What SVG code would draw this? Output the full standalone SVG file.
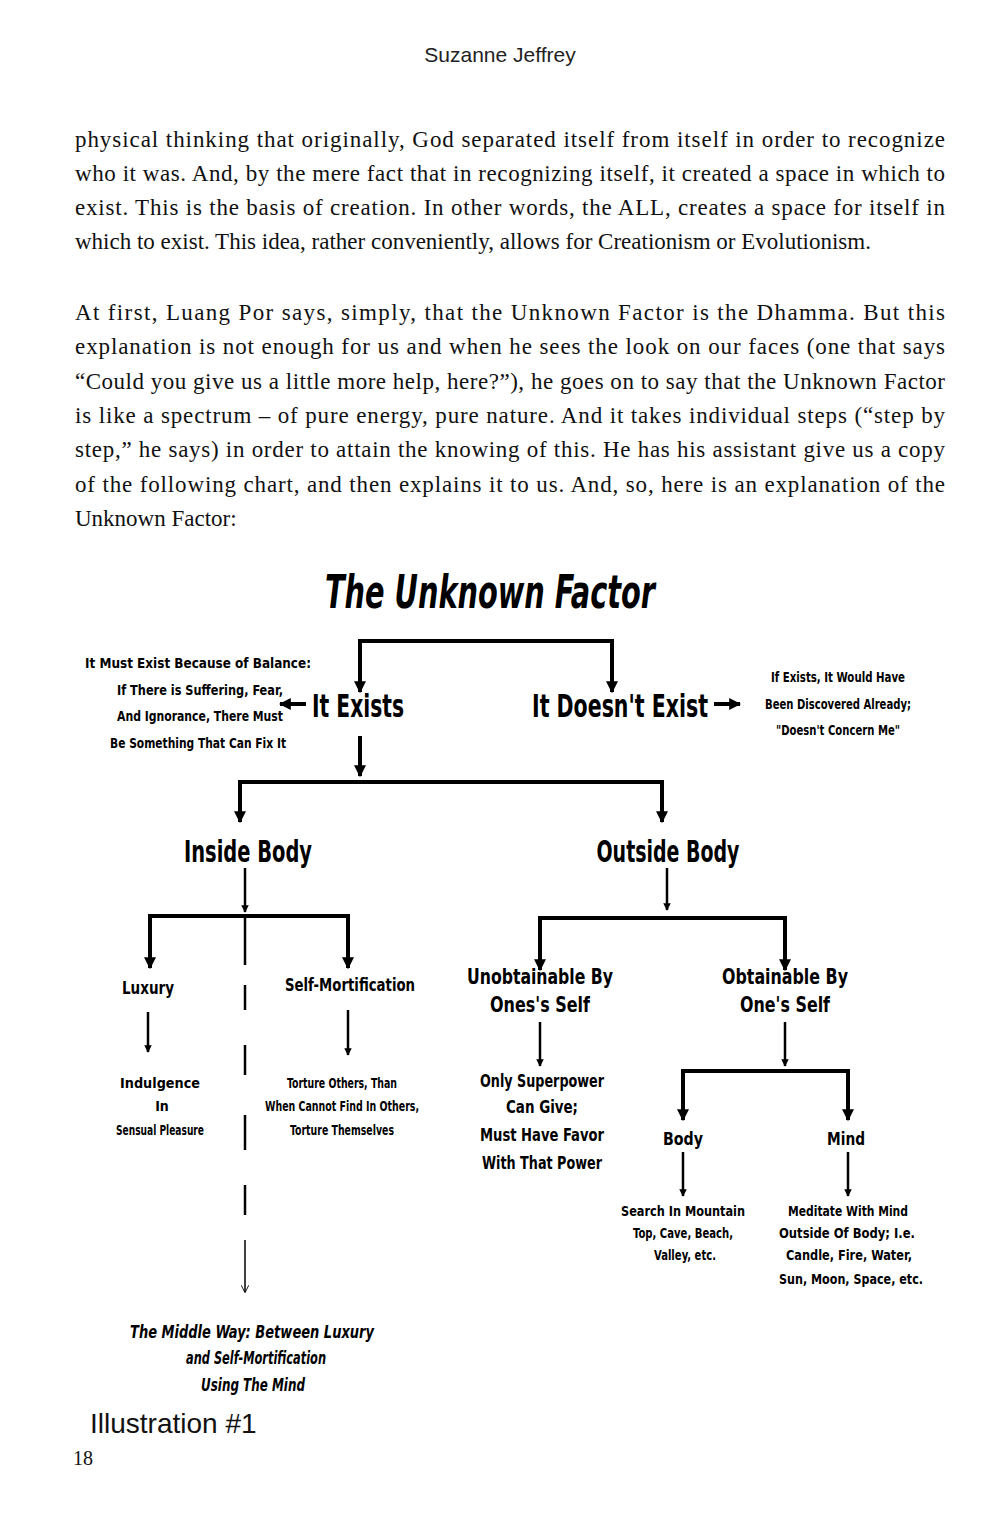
<svg xmlns="http://www.w3.org/2000/svg" width="1000" height="1520" viewBox="0 0 1000 1520">
<style>
.b{font-family:"Liberation Serif",serif;font-size:23px;fill:#111}
.c{font-family:"DejaVu Sans Condensed","Liberation Sans",sans-serif;font-weight:bold;fill:#000;text-anchor:middle}
.s{font-size:14px}
.m{font-size:17px}
.l{font-size:30px}
.ln{stroke:#000;stroke-width:4;fill:none}
.tn{stroke:#000;stroke-width:2.5;fill:none}
</style>
<defs>
<marker id="a" viewBox="0 0 10 10" refX="9" refY="5" markerWidth="3" markerHeight="3.5" orient="auto"><path d="M0,0L10,5L0,10z" fill="#000"/></marker>
<marker id="o" viewBox="0 0 10 10" refX="9" refY="5" markerWidth="6" markerHeight="5" orient="auto"><path d="M0,0L10,5L0,10" fill="none" stroke="#000" stroke-width="1.2"/></marker>
</defs>
<rect width="1000" height="1520" fill="#fff"/>
<text x="500" y="62" text-anchor="middle" style="font-family:'Liberation Sans',sans-serif;font-size:21px;fill:#222;font-weight:300">Suzanne Jeffrey</text>
<g class="b">
<text x="75" y="147" textLength="870" lengthAdjust="spacing">physical thinking that originally, God separated itself from itself in order to recognize</text>
<text x="75" y="181" textLength="870" lengthAdjust="spacing">who it was. And, by the mere fact that in recognizing itself, it created a space in which to</text>
<text x="75" y="215" textLength="870" lengthAdjust="spacing">exist. This is the basis of creation. In other words, the ALL, creates a space for itself in</text>
<text x="75" y="249">which to exist. This idea, rather conveniently, allows for Creationism or Evolutionism.</text>
<text x="75" y="320" textLength="870" lengthAdjust="spacing">At first, Luang Por says, simply, that the Unknown Factor is the Dhamma. But this</text>
<text x="75" y="354" textLength="870" lengthAdjust="spacing">explanation is not enough for us and when he sees the look on our faces (one that says</text>
<text x="75" y="389" textLength="870" lengthAdjust="spacing">“Could you give us a little more help, here?”), he goes on to say that the Unknown Factor</text>
<text x="75" y="423" textLength="870" lengthAdjust="spacing">is like a spectrum – of pure energy, pure nature. And it takes individual steps (“step by</text>
<text x="75" y="457" textLength="870" lengthAdjust="spacing">step,” he says) in order to attain the knowing of this. He has his assistant give us a copy</text>
<text x="75" y="492" textLength="870" lengthAdjust="spacing">of the following chart, and then explains it to us. And, so, here is an explanation of the</text>
<text x="75" y="526">Unknown Factor:</text>
</g>
<text x="490" y="608" class="c" style="font-size:46px;font-style:italic" textLength="330" lengthAdjust="spacingAndGlyphs">The Unknown Factor</text>

<g id="connectors">
<polyline class="ln" points="360,692 360,641 612,641 612,692" marker-end="url(#a)"/>
<line class="ln" x1="360" y1="641" x2="360" y2="692" marker-end="url(#a)"/>
<line class="ln" x1="306" y1="704" x2="280" y2="704" marker-end="url(#a)"/>
<line class="ln" x1="714" y1="704" x2="740" y2="704" marker-end="url(#a)"/>
<line class="ln" x1="360" y1="736" x2="360" y2="776" marker-end="url(#a)"/>
<polyline class="ln" points="240,822 240,782 662,782 662,822" marker-end="url(#a)"/>
<line class="ln" x1="240" y1="782" x2="240" y2="822" marker-end="url(#a)"/>
<line class="tn" x1="245" y1="868" x2="245" y2="912" marker-end="url(#a)"/>
<polyline class="ln" points="150,968 150,916 348,916 348,968" marker-end="url(#a)"/>
<line class="ln" x1="150" y1="916" x2="150" y2="968" marker-end="url(#a)"/>
<g class="tn">
<line x1="245" y1="916" x2="245" y2="965"/>
<line x1="245" y1="985" x2="245" y2="1010"/>
<line x1="245" y1="1045" x2="245" y2="1075"/>
<line x1="245" y1="1115" x2="245" y2="1150"/>
<line x1="245" y1="1185" x2="245" y2="1215"/>
<line x1="245" y1="1240" x2="245" y2="1292" stroke-width="1.5" marker-end="url(#o)"/>
</g>
<line class="tn" x1="148" y1="1012" x2="148" y2="1052" marker-end="url(#a)"/>
<line class="tn" x1="348" y1="1010" x2="348" y2="1055" marker-end="url(#a)"/>
<line class="tn" x1="667" y1="868" x2="667" y2="910" marker-end="url(#a)"/>
<polyline class="ln" points="540,970 540,918 785,918 785,970" marker-end="url(#a)"/>
<line class="ln" x1="540" y1="918" x2="540" y2="970" marker-end="url(#a)"/>
<line class="tn" x1="540" y1="1022" x2="540" y2="1066" marker-end="url(#a)"/>
<line class="tn" x1="785" y1="1022" x2="785" y2="1066" marker-end="url(#a)"/>
<polyline class="ln" points="683,1120 683,1071 848,1071 848,1120" marker-end="url(#a)"/>
<line class="ln" x1="683" y1="1071" x2="683" y2="1120" marker-end="url(#a)"/>
<line class="tn" x1="683" y1="1152" x2="683" y2="1196" marker-end="url(#a)"/>
<line class="tn" x1="848" y1="1152" x2="848" y2="1196" marker-end="url(#a)"/>
</g>

<g id="must-exist" class="c s">
<text x="198" y="668" textLength="226" lengthAdjust="spacingAndGlyphs">It Must Exist Because of Balance:</text>
<text x="200" y="695" textLength="166" lengthAdjust="spacingAndGlyphs">If There is Suffering, Fear,</text>
<text x="200" y="721" textLength="166" lengthAdjust="spacingAndGlyphs">And Ignorance, There Must</text>
<text x="198" y="748" textLength="176" lengthAdjust="spacingAndGlyphs">Be Something That Can Fix It</text>
</g>
<g id="it-exists"><text x="358" y="717" class="c" style="font-size:32px" textLength="92" lengthAdjust="spacingAndGlyphs">It Exists</text></g>
<g id="doesnt-exist"><text x="620" y="717" class="c" style="font-size:32px" textLength="176" lengthAdjust="spacingAndGlyphs">It Doesn't Exist</text></g>
<g id="discovered" class="c s">
<text x="838" y="682" textLength="134" lengthAdjust="spacingAndGlyphs">If Exists, It Would Have</text>
<text x="838" y="709" textLength="146" lengthAdjust="spacingAndGlyphs">Been Discovered Already;</text>
<text x="838" y="735" textLength="124" lengthAdjust="spacingAndGlyphs">"Doesn't Concern Me"</text>
</g>
<g id="inside"><text x="248" y="862" class="c l" textLength="128" lengthAdjust="spacingAndGlyphs">Inside Body</text></g>
<g id="outside"><text x="668" y="862" class="c l" textLength="143" lengthAdjust="spacingAndGlyphs">Outside Body</text></g>
<g id="luxury"><text x="148" y="994" class="c m" textLength="52" lengthAdjust="spacingAndGlyphs">Luxury</text></g>
<g id="selfmort"><text x="350" y="991" class="c m" textLength="130" lengthAdjust="spacingAndGlyphs">Self-Mortification</text></g>
<g id="indulgence" class="c s">
<text x="160" y="1088" textLength="80" lengthAdjust="spacingAndGlyphs">Indulgence</text>
<text x="162" y="1111">In</text>
<text x="160" y="1135" textLength="88" lengthAdjust="spacingAndGlyphs">Sensual Pleasure</text>
</g>
<g id="torture" class="c s">
<text x="342" y="1088" textLength="110" lengthAdjust="spacingAndGlyphs">Torture Others, Than</text>
<text x="342" y="1111" textLength="154" lengthAdjust="spacingAndGlyphs">When Cannot Find In Others,</text>
<text x="342" y="1135" textLength="104" lengthAdjust="spacingAndGlyphs">Torture Themselves</text>
</g>
<g id="unobtainable" class="c" style="font-size:22px">
<text x="540" y="984" textLength="146" lengthAdjust="spacingAndGlyphs">Unobtainable By</text>
<text x="540" y="1012" textLength="100" lengthAdjust="spacingAndGlyphs">Ones's Self</text>
</g>
<g id="obtainable" class="c" style="font-size:22px">
<text x="785" y="984" textLength="126" lengthAdjust="spacingAndGlyphs">Obtainable By</text>
<text x="785" y="1012" textLength="90" lengthAdjust="spacingAndGlyphs">One's Self</text>
</g>
<g id="superpower" class="c m">
<text x="542" y="1087" textLength="124" lengthAdjust="spacingAndGlyphs">Only Superpower</text>
<text x="542" y="1113" textLength="72" lengthAdjust="spacingAndGlyphs">Can Give;</text>
<text x="542" y="1141" textLength="124" lengthAdjust="spacingAndGlyphs">Must Have Favor</text>
<text x="542" y="1169" textLength="120" lengthAdjust="spacingAndGlyphs">With That Power</text>
</g>
<g id="body"><text x="683" y="1145" class="c m" textLength="40" lengthAdjust="spacingAndGlyphs">Body</text></g>
<g id="mind"><text x="846" y="1145" class="c m" textLength="38" lengthAdjust="spacingAndGlyphs">Mind</text></g>
<g id="search" class="c s">
<text x="683" y="1216" textLength="124" lengthAdjust="spacingAndGlyphs">Search In Mountain</text>
<text x="683" y="1238" textLength="100" lengthAdjust="spacingAndGlyphs">Top, Cave, Beach,</text>
<text x="685" y="1260" textLength="62" lengthAdjust="spacingAndGlyphs">Valley, etc.</text>
</g>
<g id="meditate" class="c s">
<text x="848" y="1216" textLength="120" lengthAdjust="spacingAndGlyphs">Meditate With Mind</text>
<text x="847" y="1238" textLength="136" lengthAdjust="spacingAndGlyphs">Outside Of Body; I.e.</text>
<text x="849" y="1260" textLength="126" lengthAdjust="spacingAndGlyphs">Candle, Fire, Water,</text>
<text x="851" y="1284" textLength="144" lengthAdjust="spacingAndGlyphs">Sun, Moon, Space, etc.</text>
</g>
<g id="middle-way" class="c m" style="font-style:italic">
<text x="252" y="1338" textLength="244" lengthAdjust="spacingAndGlyphs">The Middle Way: Between Luxury</text>
<text x="256" y="1364" textLength="140" lengthAdjust="spacingAndGlyphs">and Self-Mortification</text>
<text x="253" y="1391" textLength="104" lengthAdjust="spacingAndGlyphs">Using The Mind</text>
</g>
<text x="90" y="1433" style="font-family:'Liberation Sans',sans-serif;font-size:28px;fill:#111">Illustration #1</text>
<text x="73" y="1465" style="font-family:'Liberation Serif',serif;font-size:20px;fill:#111">18</text>
</svg>
